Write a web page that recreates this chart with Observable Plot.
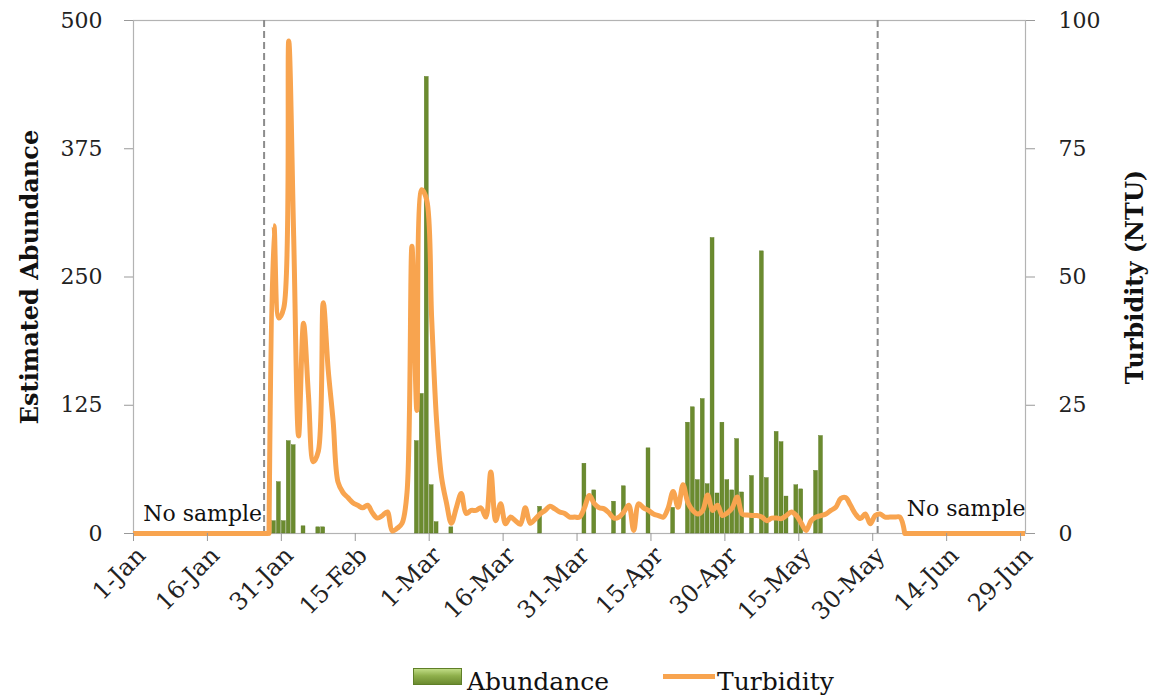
<!DOCTYPE html>
<html>
<head>
<meta charset="utf-8">
<script src="https://cdn.jsdelivr.net/npm/d3@7"></script>
<script src="https://cdn.jsdelivr.net/npm/@observablehq/plot@0.6"></script>
<style>
  body { margin: 0; background: #fff; font-family: "DejaVu Serif", serif; }
  #chart { position: relative; width: 1150px; height: 695px; overflow: hidden; }
  #legend { position: absolute; left: 0; top: 650px; width: 1150px; height: 45px; }
  #legend div { position: absolute; }
  .ltxt { font-size: 25px; line-height: 25px; color: #111; white-space: nowrap; }
</style>
</head>
<body>
<div id="chart">
  <div id="plot"></div>
  <div id="legend">
    <div id="swBar" style="left:413px;top:18px;width:49px;height:17px;box-sizing:border-box;border:1px solid #5f7f28;background:linear-gradient(#c0dc85,#8fb04c 45%,#6b8b2f);"></div>
    <div class="ltxt" style="left:467px;top:19px;">Abundance</div>
    <div id="swLine" style="left:663px;top:24px;width:52px;height:5px;"></div>
    <div class="ltxt" style="left:717px;top:19px;">Turbidity</div>
  </div>
</div>
<script>
// ---------------- data ----------------
// daily turbidity (NTU), starting on seriesStart
const seriesStart = "2012-01-28";
const turbidityNTU = [
  0, 60, 42, 44, 96, 58, 19, 41, 27, 14,
  16, 45, 32, 22, 10, 8, 7, 6, 5.5, 5,
  5.5, 4, 3, 3.5, 4.2, 0.5, 1, 2, 8, 56,
  24, 67, 65, 42, 22, 11, 6, 2, 5, 7.8,
  3.9, 4.5, 4.5, 5, 3.2, 12, 2.5, 5.8, 1.9, 3.2,
  2.5, 1.8, 5, 2, 2.8, 3.8, 4.5, 5.3, 4.8, 4.2,
  3.9, 3.2, 3.2, 3.2, 5, 7.4, 5.8, 5, 4.8, 4,
  3, 3.2, 4.2, 5.5, 0.6, 5.8, 5, 4.5, 3.8, 3.5,
  3.2, 5, 8.2, 5.1, 9.5, 6, 4.5, 3.8, 4.5, 7.5,
  4.5, 5.5, 3.5, 4, 5, 7.1, 3.8, 3.6, 3.5, 3.5,
  3.2, 2.5, 3, 3, 2.9, 3.5, 4.2, 3.5, 2, 0.6,
  2.5, 3.2, 3.5, 3.8, 4.5, 5.1, 6.8, 7, 5.5, 3.8,
  2.9, 3.8, 1.9, 3.5, 3.8, 3.2, 3.2, 3.2, 3.2, 0
];
// periods with no sample (turbidity drawn at 0)
const noSampleSpans = [["2012-01-01", "2012-01-28T12:00"], ["2012-06-05T12:00", "2012-06-30"]];

// estimated abundance (days with catches)
const abundanceDates = [
  "2012-01-29", "2012-01-30", "2012-01-31", "2012-02-01", "2012-02-02", "2012-02-04", "2012-02-07", "2012-02-08",
  "2012-02-27", "2012-02-28", "2012-02-29", "2012-03-01", "2012-03-02", "2012-03-05",
  "2012-03-23",
  "2012-04-01", "2012-04-03", "2012-04-07", "2012-04-09", "2012-04-14", "2012-04-19",
  "2012-04-22", "2012-04-23", "2012-04-24", "2012-04-25", "2012-04-26", "2012-04-27", "2012-04-28",
  "2012-04-29", "2012-04-30", "2012-05-01", "2012-05-02", "2012-05-03", "2012-05-05", "2012-05-07",
  "2012-05-08", "2012-05-10", "2012-05-11", "2012-05-12", "2012-05-14", "2012-05-15", "2012-05-18", "2012-05-19"
];
const abundanceValues = [
  12, 50, 12, 90, 86, 7, 6, 6,
  90, 136, 445, 47, 11, 6,
  26,
  68, 42, 31, 46, 83, 25,
  108, 123, 52, 131, 48, 288, 39,
  108, 52, 42, 92, 40, 56, 275,
  54, 99, 89, 36, 47, 43, 61, 95
];

const sampleLimits = ["2012-01-27T12:00", "2012-05-31"];
const xTickDates = ["2012-01-01", "2012-01-16", "2012-01-31", "2012-02-15", "2012-03-01", "2012-03-16",
  "2012-03-31", "2012-04-15", "2012-04-30", "2012-05-15", "2012-05-30", "2012-06-14", "2012-06-29"];
const abundanceTicks = [0, 125, 250, 375, 500];
const turbidityMax = 100;
const abundanceMax = 500;
const noSampleLabel = "No sample";

// ---------------- build ----------------
const D = s => new Date(s + (s.length === 10 ? "T00:00Z" : "Z"));
const k = abundanceMax / turbidityMax;
const orange = "#f8a44f";
const green = "#6b8b2f";
document.getElementById("swLine").style.background = orange;

const start = D(seriesStart);
const turbRows = turbidityNTU.map((v, i) => ({
  x: d3.utcHour.offset(d3.utcDay.offset(start, i), 12),
  y: v * k
}));
const barRows = abundanceDates.map((s, i) => ({
  x1: D(s), x2: d3.utcDay.offset(D(s), 1), y: abundanceValues[i]
}));
const spanRows = noSampleSpans.map(([a, b]) => ({x1: D(a), x2: D(b)}));
const limits = sampleLimits.map(D);
const xTicks = xTickDates.map(D);

const chart = Plot.plot({
  width: 1150,
  height: 650,
  marginLeft: 133,
  marginRight: 125,
  marginTop: 20,
  marginBottom: 117,
  style: {fontFamily: "DejaVu Serif, serif", fontSize: "22px", background: "#fff", color: "#222"},
  x: {type: "utc", domain: [D("2012-01-01"), D("2012-06-30")]},
  y: {domain: [0, abundanceMax]},
  marks: [
    Plot.frame({stroke: "#b3b3b3", strokeWidth: 1.2}),
    Plot.rectY(barRows, {x1: "x1", x2: "x2", y: "y", fill: green, stroke: "#58761f", strokeWidth: 0.4, insetLeft: 0.5, insetRight: 0.5}),
    Plot.ruleX(limits, {stroke: "#8c8c8c", strokeWidth: 2, strokeDasharray: "7,4"}),
    Plot.ruleY(spanRows, {x1: "x1", x2: "x2", y: 0, stroke: orange, strokeWidth: 5}),
    Plot.line(turbRows, {x: "x", y: "y", stroke: orange, strokeWidth: 5, curve: "catmull-rom", strokeLinejoin: "round"}),
    Plot.text([noSampleLabel], {x: limits[0], y: 0, textAnchor: "end", dx: -2, dy: -20, fontSize: 22, fill: "#111"}),
    Plot.text([noSampleLabel], {x: limits[1], y: 0, textAnchor: "start", dx: 29, dy: -25, fontSize: 22, fill: "#111"}),
    Plot.axisY({anchor: "left", ticks: abundanceTicks, tickSize: 9, tickPadding: 22, label: null, stroke: "#999", fill: "#222", fontSize: 22}),
    Plot.axisY({anchor: "right", ticks: abundanceTicks, tickFormat: d => d / k, tickSize: 9, tickPadding: 24, label: null, stroke: "#999", fill: "#222", fontSize: 22}),
    // tick marks only
    Plot.axisX({ticks: xTicks, tickFormat: () => "", tickSize: 8, label: null, stroke: "#999"}),
    // rotated labels only
    Plot.axisX({ticks: xTicks, tickFormat: d3.utcFormat("%-d-%b"), tickRotate: -45, tickSize: 0, tickPadding: 18, dx: 8, label: null, fill: "#222", fontSize: 24}),
    Plot.text(["Estimated Abundance"], {frameAnchor: "left", textAnchor: "middle", dx: -103, rotate: -90, fontWeight: "bold", fontSize: 24, fill: "#111"}),
    Plot.text(["Turbidity (NTU)"], {frameAnchor: "right", textAnchor: "middle", dx: 110, rotate: -90, fontWeight: "bold", fontSize: 24, fill: "#111"})
  ]
});
document.getElementById("plot").appendChild(chart);
</script>
</body>
</html>
